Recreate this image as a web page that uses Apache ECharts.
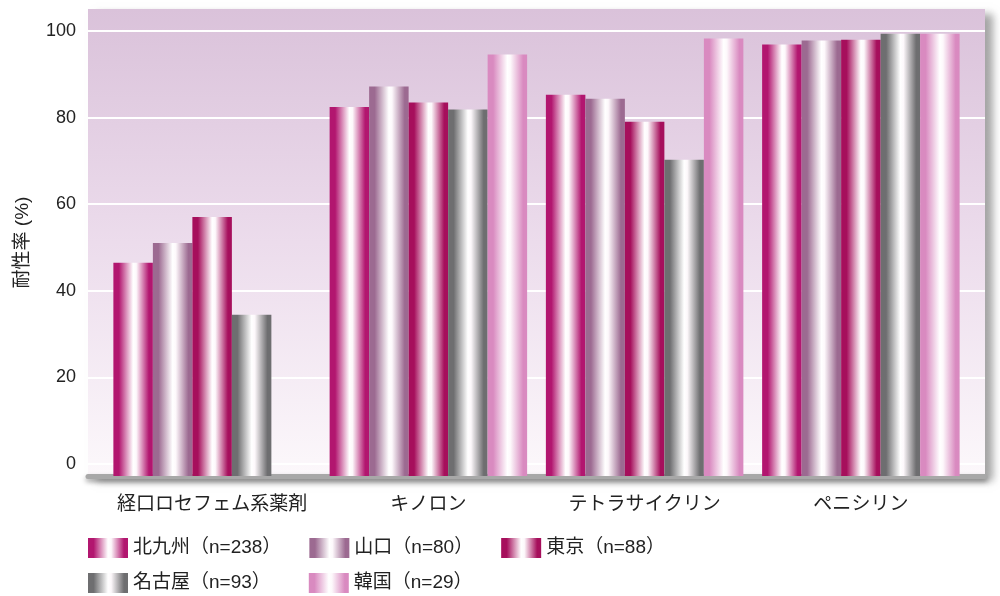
<!DOCTYPE html>
<html>
<head>
<meta charset="utf-8">
<script src="https://cdn.jsdelivr.net/npm/echarts@6/dist/echarts.min.js"></script>
<style>
  html, body { margin: 0; padding: 0; background: #fff; }
  #main { width: 1000px; height: 596px; }
</style>
</head>
<body>
<div id="main"></div>
<script>
var categories = ['経口ロセフェム系薬剤', 'キノロン', 'テトラサイクリン', 'ペニシリン'];
var seriesNames = ['北九州（n=238）', '山口（n=80）', '東京（n=88）', '名古屋（n=93）', '韓国（n=29）'];
var kitakyushu = [46.4, 82.4, 85.2, 96.8];
var yamaguchi = [51.0, 87.1, 84.3, 97.7];
var tokyo = [57.0, 83.4, 79.0, 97.9];
var nagoya = [34.4, 81.8, 70.2, 99.3];
var korea = [null, 94.5, 98.2, 99.3];
var yTicks = [0, 20, 40, 60, 80, 100];

var font = "'Liberation Sans', 'Noto Sans CJK JP', sans-serif";
var edgeColors = ['#b2166f', '#9c6a91', '#a60f5c', '#6e6e70', '#d98ac0'];

function barGrad(edge) {
    return new echarts.graphic.LinearGradient(0, 0, 1, 0, [
        {offset: 0, color: edge},
        {offset: 0.14, color: edge},
        {offset: 0.5, color: '#ffffff'},
        {offset: 0.58, color: '#fdf8fb'},
        {offset: 0.9, color: edge},
        {offset: 1, color: edge}
    ]);
}

var myChart = echarts.init(document.getElementById('main'));

var values = [kitakyushu, yamaguchi, tokyo, nagoya, korea];
var series = values.map(function (d, i) {
    return {
        name: seriesNames[i],
        type: 'bar',
        xAxisIndex: 2,
        yAxisIndex: 2,
        barWidth: 39.5,
        barGap: '0%',
        itemStyle: { color: barGrad(edgeColors[i]) },
        data: d
    };
});

myChart.setOption({
    animation: false,
    textStyle: { fontFamily: font },
    grid: [
        {   // background wall
            left: 88, right: 15, top: 9, bottom: 120,
            show: true,
            borderWidth: 0,
            backgroundColor: new echarts.graphic.LinearGradient(0, 0, 0, 1, [
                {offset: 0, color: '#dac2da'},
                {offset: 0.5, color: '#ecdcec'},
                {offset: 1, color: '#fcf8fb'}
            ]),
            shadowColor: 'rgba(90,90,90,0.55)',
            shadowBlur: 8,
            shadowOffsetX: 8,
            shadowOffsetY: 5
        },
        {   // ticks and gridlines
            left: 88, right: 15, top: 31, bottom: 132
        },
        {   // bars
            left: 104, right: 31, top: 9, bottom: 120
        }
    ],
    xAxis: [
        {
            gridIndex: 0, type: 'value', min: 0, max: 1,
            axisLine: { show: true, onZero: false,
                lineStyle: { color: '#a8a8a8', width: 5,
                    shadowColor: 'rgba(0,0,0,0.35)', shadowBlur: 5, shadowOffsetY: 3 } },
            axisTick: { show: false }, axisLabel: { show: false }, splitLine: { show: false }
        },
        { gridIndex: 1, type: 'category', data: categories, show: false },
        {
            gridIndex: 2, type: 'category', data: categories,
            axisLine: { show: false }, axisTick: { show: false },
            axisLabel: { interval: 0, fontSize: 19, color: '#222', margin: 19, fontFamily: font }
        }
    ],
    yAxis: [
        {
            gridIndex: 0, type: 'value', min: -2.8, max: 105,
            name: '耐性率 (%)', nameLocation: 'middle', nameGap: 56,
            nameTextStyle: { fontSize: 19, color: '#222', fontFamily: font },
            axisLine: { show: false }, axisTick: { show: false },
            axisLabel: { show: false }, splitLine: { show: false }
        },
        {
            gridIndex: 1, type: 'value', min: yTicks[0], max: yTicks[yTicks.length - 1], interval: 20,
            axisLine: { show: false }, axisTick: { show: false },
            axisLabel: { fontSize: 18, color: '#222', margin: 12, fontFamily: font },
            splitLine: { show: true, lineStyle: { color: '#ffffff', width: 2 } }
        },
        {
            gridIndex: 2, type: 'value', min: -2.8, max: 105, startValue: -2.8,
            show: false, splitLine: { show: false }
        }
    ],
    legend: [
        {
            data: seriesNames.slice(0, 3),
            left: 88, top: 538, padding: 0,
            icon: 'rect', itemWidth: 40, itemHeight: 20, itemGap: 28,
            textStyle: { fontSize: 19, color: '#222', fontFamily: font }
        },
        {
            data: seriesNames.slice(3),
            left: 88, top: 573, padding: 0,
            icon: 'rect', itemWidth: 40, itemHeight: 20, itemGap: 38,
            textStyle: { fontSize: 19, color: '#222', fontFamily: font }
        }
    ],
    series: series
});
</script>
</body>
</html>
